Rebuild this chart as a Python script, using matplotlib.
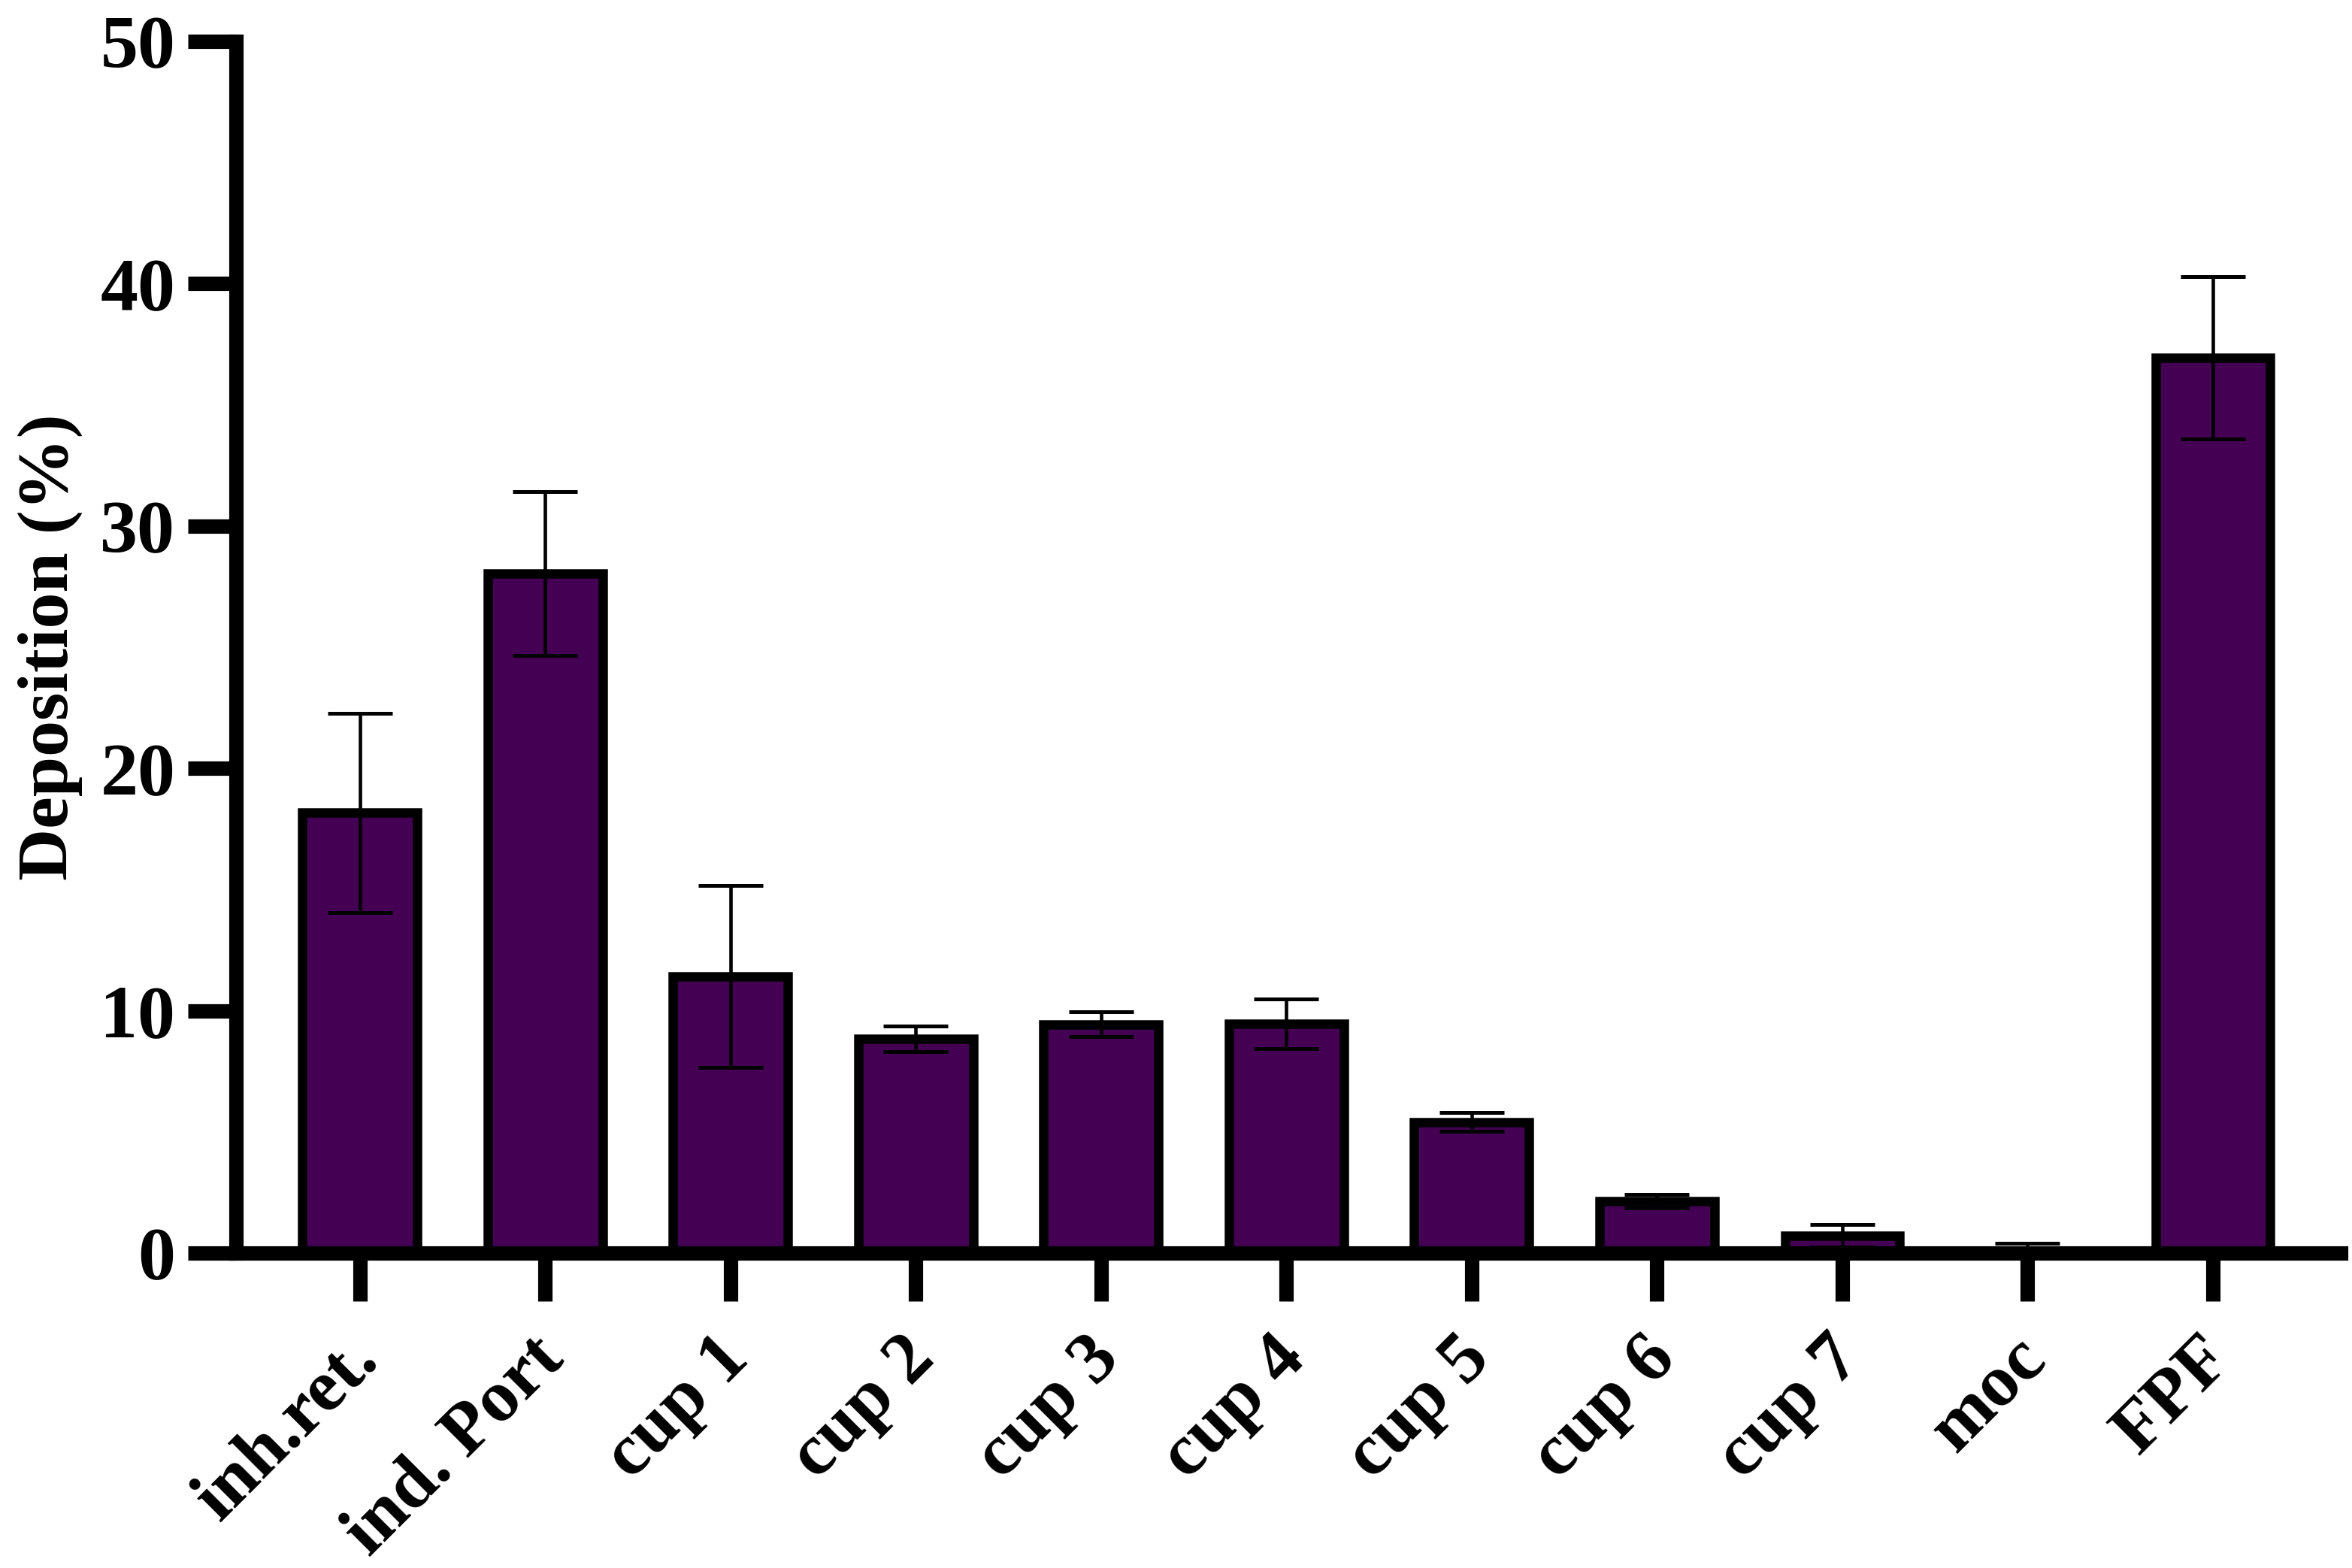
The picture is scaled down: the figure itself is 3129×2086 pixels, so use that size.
import matplotlib
matplotlib.use("Agg")
import matplotlib.pyplot as plt
import matplotlib.transforms as mtransforms
import numpy as np

# stages of the impactor and the deposition (mean, sd)
categories = ["inh.ret.", "ind. Port", "cup 1", "cup 2", "cup 3", "cup 4",
              "cup 5", "cup 6", "cup 7", "moc", "FPF"]
deposition = [18.16, 28.04, 11.42, 8.84, 9.44, 9.45, 5.40, 2.14, 0.72, 0.05, 36.95]
deposition_sd = [4.10, 3.39, 3.75, 0.53, 0.51, 1.03, 0.39, 0.27, 0.47, 0.36, 3.35]
y_ticks = [0, 10, 20, 30, 40, 50]

bar_color = "#440154"

plt.rcParams["font.family"] = ["Liberation Serif", "DejaVu Serif"]
plt.rcParams["font.weight"] = "bold"

fig = plt.figure(figsize=(3129 / 300, 2086 / 300), dpi=300)
ax = fig.add_axes([0.10035, 0.2009, 0.8949, 0.7727])

x = np.arange(len(categories))
ax.bar(x, deposition, width=0.62, color=bar_color, edgecolor="black",
       linewidth=3.0, zorder=2)
ax.errorbar(x, deposition, yerr=deposition_sd, fmt="none", ecolor="black",
            elinewidth=1.1, capsize=10.4, capthick=1.2, zorder=3)

ax.set_xlim(-0.668, 10.69)
ax.set_ylim(0, 50)
ax.set_yticks(y_ticks)
ax.set_yticklabels([str(t) for t in y_ticks])
ax.set_xticks(x)
ax.set_xticklabels([])

# rotated category labels, placed under the ticks
trans = ax.get_xaxis_transform() + mtransforms.ScaledTranslation(
    -5 / 72, -23 / 72, fig.dpi_scale_trans)
for xi, name in zip(x, categories):
    ax.text(xi, 0, name, transform=trans, rotation=45, ha="right", va="top",
            rotation_mode="anchor", fontsize=23.5, fontweight="bold")

# axes styling
for side in ["top", "right"]:
    ax.spines[side].set_visible(False)
for side in ["left", "bottom"]:
    ax.spines[side].set_linewidth(4.6)
    ax.spines[side].set_capstyle("projecting")
    ax.spines[side].set_zorder(4)

ax.tick_params(axis="both", direction="out", length=15.4, width=4.6,
               labelsize=24, color="black")
ax.tick_params(axis="y", pad=4)

ax.set_ylabel("Deposition (%)", fontsize=23, fontweight="bold")
ax.yaxis.set_label_coords(-0.073, 0.5)

fig.savefig("out.png", dpi=300)
